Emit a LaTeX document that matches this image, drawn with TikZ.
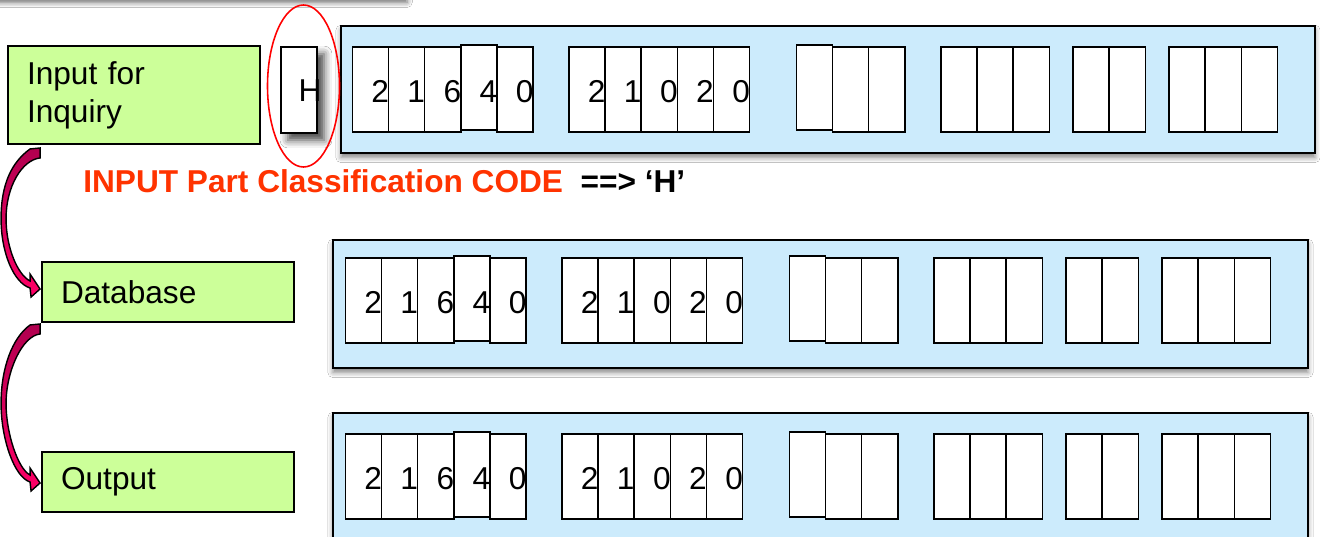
\documentclass[tikz,border=0pt]{standalone}
\usepackage{fontspec}
\setmainfont{Liberation Sans}
\usetikzlibrary{calc,shadows.blur}

\definecolor{panelblue}{HTML}{CCEBFC}
\definecolor{boxgreen}{HTML}{CCFF99}
\definecolor{codered}{HTML}{FF3300}
\definecolor{arrowdark}{HTML}{B0004F}
\definecolor{arrowpink}{HTML}{FF0066}

% one row of code cells: #1 row name, #2 x of first cell, #3 centre y
\newcommand{\cellrow}[3]{%
  \foreach \gx/\cnt/\g/\up in {0/5/a/4,216.5/5/b/0,444/3/c/1,588.5/3/d/0,720.5/2/e/0,816.5/3/f/0}
    \foreach \k in {1,...,\cnt}
      \node[cell] (#1\g\k) at ({#2+\gx+(\k-0.5)*36.1},{#3-2*(\k==\up)}) {};
  % raised cells sit on top
  \node[cell] at (#1a4) {};
  \node[cell] at (#1c1) {};
  \foreach \d [count=\k] in {2,1,6,4,0}
    \node[digit] at (#1a\k.east |- #1a1.east) {\d};
  \foreach \d [count=\k] in {2,1,0,2,0}
    \node[digit] at (#1b\k.east) {\d};
}

% fat bent arrow from #1 (top of band) to #2 (tip)
\newcommand{\bentarrow}[2]{%
  \path[bent] ($(#1)+(-2,1)$)
    .. controls ($(#1)+(-20,14)$) and ($(#1)!0.5!(#2)+(-35,-35)$) .. ($(#1)!0.5!(#2)+(-35,0)$)
    .. controls ($(#1)!0.5!(#2)+(-35,35)$) and ($(#2)+(-26,-6)$) .. ($(#2)+(-10,-1)$)
    -- ($(#2)+(-9,8)$) -- (#2) -- ($(#2)+(-10,-15)$) -- ($(#2)+(-10,-8)$)
    .. controls ($(#2)+(-22,-14)$) and ($(#1)!0.5!(#2)+(-30,30)$) .. ($(#1)!0.5!(#2)+(-30,0)$)
    .. controls ($(#1)!0.5!(#2)+(-30,-32)$) and ($(#1)+(-10,12)$) .. ($(#1)+(8,10)$)
    -- ($(#1)+(8,0)$) -- cycle;
}

\begin{document}
\begin{tikzpicture}[x=0.02cm, y=-0.02cm, font=\fontsize{18}{21.5}\selectfont,
    greenbox/.style={draw=black, line width=1.1pt, fill=boxgreen, inner xsep=0.38cm,
      inner ysep=0pt, text width=4.28cm, align=left},
    panel/.style={draw=black, line width=1.1pt, fill=panelblue, inner sep=0pt,
      blur shadow={shadow xshift=0pt, shadow yshift=-2.5pt, shadow blur radius=3pt, shadow opacity=50}},
    cell/.style={draw=black, line width=0.8pt, fill=white, inner sep=0pt,
      minimum width=0.722cm, minimum height=1.7cm},
    digit/.style={anchor=east, inner sep=0pt, yshift=-1pt},
    bent/.style={draw=black, line width=0.8pt, top color=arrowdark, bottom color=arrowpink}]
  \useasboundingbox (0,0) rectangle (1320,537);
  \clip (0,0) rectangle (1320,537);
  \fill[white] (0,0) rectangle (1320,537);

  % box cut off at the top
  \path[fill=white, blur shadow={shadow xshift=0pt, shadow yshift=-3pt, shadow blur radius=3pt, shadow opacity=60}]
    (-30,-100) rectangle (407,-3);

  % record panels
  \node[panel, minimum width=19.48cm, minimum height=2.54cm] (p1) at (828,89.5) {};
  \node[panel, minimum width=19.5cm, minimum height=2.56cm] (p2) at (820.5,304) {};
  \node[panel, minimum width=19.5cm, minimum height=2.56cm] (p3) at (820.5,477) {};

  \cellrow{ra}{352.5}{89.5}
  \cellrow{rb}{345.5}{300.5}
  \cellrow{rc}{345.5}{476.5}

  % input code
  \node[cell, minimum height=1.72cm,
    blur shadow={shadow xshift=4pt, shadow yshift=-4pt, shadow blur radius=4.5pt, shadow opacity=75}]
    (hcell) at (299,90) {};
  \node[inner sep=0pt] (hlbl) at (310,91) {H};
  \draw[red, line width=0.9pt] (hcell.center) ++(4.5,-4) ellipse [x radius=36, y radius=81];

  % steps
  \node[greenbox, minimum height=1.96cm] (inq) at (134,95) {Input for\\Inquiry};
  \node[greenbox, minimum height=1.2cm] (db) at (168,292) {Database};
  \node[greenbox, minimum height=1.2cm] (outp) at (168,482) {Output};

  \coordinate (a1s) at ($(inq.south west)+(25,3)$);
  \coordinate (a1t) at ($(db.west)+(-1,-3)$);
  \coordinate (a2s) at ($(db.south west)+(-9,1)$);
  \coordinate (a2t) at ($(outp.west)+(-1,1)$);
  \bentarrow{a1s}{a1t}
  \bentarrow{a2s}{a2t}

  \node[anchor=base west, inner sep=0pt, font=\fontsize{18}{21.5}\selectfont\bfseries, text=codered]
    (codelbl) at (83,193) {INPUT Part Classification CODE\ \ \textcolor{black}{==> ‘H’}};
\end{tikzpicture}
\end{document}
